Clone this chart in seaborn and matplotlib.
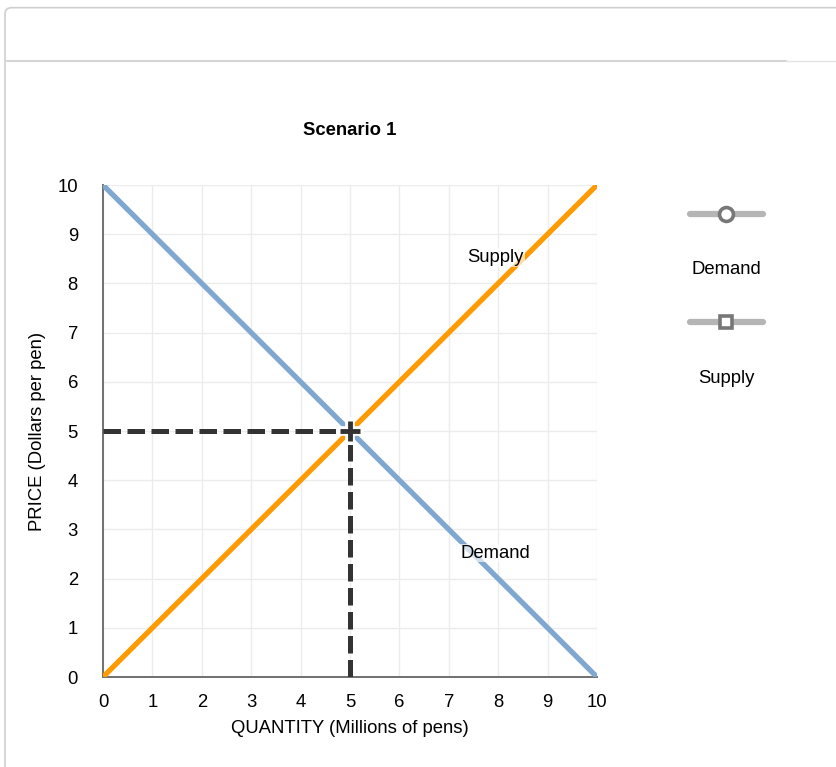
import matplotlib
matplotlib.use("Agg")
import matplotlib.pyplot as plt
import matplotlib.patches as mpatches
from matplotlib.lines import Line2D
import seaborn as sns
import pandas as pd

# chart data
demand_qty = [0, 10]
demand_price = [10, 0]
supply_qty = [0, 10]
supply_price = [0, 10]
eq_qty = 5
eq_price = 5
x_ticks = list(range(0, 11))
y_ticks = list(range(0, 11))

DEMAND_COLOR = "#7fa7d0"
SUPPLY_COLOR = "#ff9a00"
GUIDE_COLOR = "#333333"
FS = 13.3

sns.set_style("white")
plt.rcParams["font.family"] = ["Liberation Sans", "DejaVu Sans"]
plt.rcParams["text.color"] = "black"
plt.rcParams["axes.labelcolor"] = "black"
plt.rcParams["xtick.labelcolor"] = "black"
plt.rcParams["ytick.labelcolor"] = "black"

fig = plt.figure(figsize=(8.36, 7.67), dpi=100)
ax = fig.add_axes([0.1232, 0.1173, 0.5909, 0.6415])

# outer card frame
fig.patches.append(mpatches.FancyBboxPatch(
    (0.006, -0.05), 1.2, 1.04, boxstyle="round,pad=0,rounding_size=0.008",
    transform=fig.transFigure, fill=False, edgecolor="#cfcfcf", lw=1.2))
fig.lines.append(Line2D([0.008, 0.94], [0.921, 0.921], transform=fig.transFigure,
                        color="#d4d4d4", lw=1.5))
fig.lines.append(Line2D([0.94, 1.0], [0.921, 0.921], transform=fig.transFigure,
                        color="#e4e4e4", lw=1.0))

df_d = pd.DataFrame({"q": demand_qty, "p": demand_price})
df_s = pd.DataFrame({"q": supply_qty, "p": supply_price})

sns.lineplot(data=df_d, x="q", y="p", ax=ax, color=DEMAND_COLOR, lw=3.8,
             solid_capstyle="butt", zorder=3)
sns.lineplot(data=df_s, x="q", y="p", ax=ax, color=SUPPLY_COLOR, lw=3.8,
             solid_capstyle="butt", zorder=3)

# equilibrium guides
ax.plot([0, eq_qty], [eq_price, eq_price], color=GUIDE_COLOR, lw=3.6,
        dashes=(3.5, 1.3), zorder=4)
ax.plot([eq_qty, eq_qty], [0, eq_price], color=GUIDE_COLOR, lw=3.6,
        dashes=(3.5, 1.3), zorder=4)
ax.plot([eq_qty], [eq_price], marker="+", ms=20, mew=7, color="white", zorder=5)
ax.plot([eq_qty], [eq_price], marker="+", ms=15, mew=3.5, color=GUIDE_COLOR, zorder=6)

# curve labels
ax.text(7.95, 8.52, "Supply", ha="center", va="center", fontsize=FS, zorder=7,
        bbox=dict(boxstyle="square,pad=0.05", fc="white", ec="none", alpha=0.65))
ax.text(7.95, 2.52, "Demand", ha="center", va="center", fontsize=FS, zorder=7,
        bbox=dict(boxstyle="square,pad=0.05", fc="white", ec="none", alpha=0.65))

ax.set_xlim(0, 10)
ax.set_ylim(0, 10)
ax.set_xticks(x_ticks)
ax.set_yticks(y_ticks)
ax.grid(True, color="#ececec", lw=1.0)
ax.set_axisbelow(True)
for side in ["top", "right"]:
    ax.spines[side].set_visible(False)
for side in ["left", "bottom"]:
    ax.spines[side].set_color("#707070")
    ax.spines[side].set_linewidth(1.4)
ax.tick_params(axis="x", direction="inout", length=10, width=1.3, color="#707070",
               labelsize=FS, pad=7, labelcolor="black")
ax.tick_params(axis="y", direction="inout", length=10, width=1.3, color="#707070",
               labelsize=FS, pad=13, labelcolor="black")
ax.set_xlabel("QUANTITY (Millions of pens)", fontsize=FS, labelpad=7)
ax.set_ylabel("PRICE (Dollars per pen)", fontsize=FS, labelpad=8)
ax.set_title("Scenario 1", fontsize=FS, fontweight="bold", pad=36)

# custom legend on the right
leg_specs = [("Demand", "o", 0.721, 0.648), ("Supply", "s", 0.580, 0.506)]
for name, mk, y_line, y_text in leg_specs:
    fig.lines.append(Line2D([0.825, 0.913], [y_line, y_line], transform=fig.transFigure,
                            color="#b5b5b5", lw=4.5))
    fig.lines.append(Line2D([0.869], [y_line], transform=fig.transFigure, marker=mk,
                            ms=10 if mk == "o" else 9, mfc="white", mec="#777777",
                            mew=2.6, lw=0))
    fig.text(0.869, y_text, name, ha="center", va="center", fontsize=FS)

fig.savefig("out.png", dpi=100)
